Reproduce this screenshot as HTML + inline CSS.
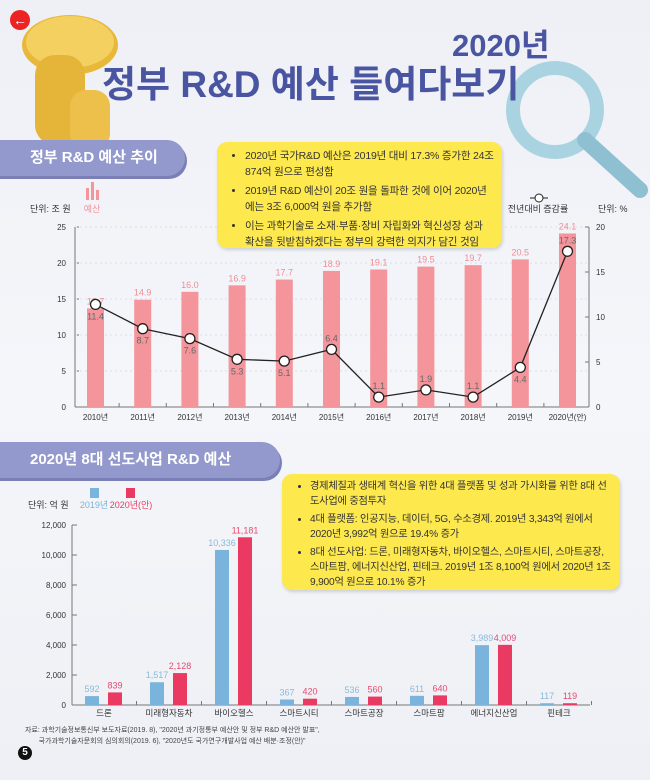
<!DOCTYPE html>
<html><head><meta charset="utf-8">
<style>
body{margin:0;width:650px;height:780px;overflow:hidden;font-family:"Liberation Sans","Noto Sans CJK KR",sans-serif;}
#page{position:relative;width:650px;height:780px;background:linear-gradient(180deg,#eef0f6 0%,#f5f6fa 50%,#eef0f5 100%);overflow:hidden;}
.abs{position:absolute;}
.tab{position:absolute;left:-10px;background:#9399cc;border-radius:0 30px 30px 0;color:#fff;font-weight:bold;font-size:15px;box-shadow:2px 3px 0 #7a80b5;}
.callout{position:absolute;background:#fde84e;border-radius:10px;font-size:10.5px;color:#333;line-height:16px;box-shadow:1px 2px 3px rgba(0,0,0,.15);letter-spacing:-0.2px}
.callout ul{margin:0;padding:0 0 0 20px}
.callout li{margin-bottom:3px}
</style></head><body>
<div id="page">
<svg class="abs" style="left:0;top:0" width="650" height="780">
  <circle cx="20" cy="20" r="10" fill="#e22"/>
  <text x="20" y="25" font-size="14" fill="#fff" text-anchor="middle" font-weight="bold">←</text>
  <g>
    <ellipse cx="70" cy="45" rx="48" ry="30" fill="#e8b83a"/>
    <ellipse cx="70" cy="42" rx="44" ry="26" fill="#f4d060"/>
    <rect x="35" y="55" width="50" height="90" rx="20" fill="#e5b53a"/>
    <rect x="70" y="90" width="40" height="60" rx="16" fill="#ecc04a"/>
  </g>
  <g>
    <circle cx="555" cy="110" r="42" fill="none" stroke="#a9d3e0" stroke-width="14"/>
    <line x1="585" y1="140" x2="640" y2="190" stroke="#8fc0d2" stroke-width="16" stroke-linecap="round"/>
  </g>
</svg>
<div class="abs" style="left:452px;top:20px;font-size:31px;color:#4a55a2;font-weight:bold">2020년</div>
<div class="abs" style="left:102px;top:54px;font-size:37px;color:#4a55a2;font-weight:bold">정부 R&amp;D 예산 들여다보기</div>

<div class="tab" style="top:140px;width:195px;height:36px;line-height:36px;padding-left:40px;box-sizing:border-box">정부 R&amp;D 예산 추이</div>
<div class="tab" style="top:442px;width:290px;height:36px;line-height:36px;padding-left:40px;box-sizing:border-box">2020년 8대 선도사업 R&amp;D 예산</div>

<div class="abs" style="left:25px;top:725px;font-size:7px;color:#444;line-height:11px">자료: 과학기술정보통신부 보도자료(2019. 8), "2020년 과기정통부 예산안 및 정부 R&amp;D 예산안 발표",<br>&nbsp;&nbsp;&nbsp;&nbsp;&nbsp;&nbsp;&nbsp;국가과학기술자문회의 심의회의(2019. 6), "2020년도 국가연구개발사업 예산 배분·조정(안)"</div>
<div class="abs" style="left:18px;top:746px;width:14px;height:14px;border-radius:7px;background:#111;color:#fff;font-size:10px;text-align:center;line-height:14px;font-weight:bold">5</div>

<svg id="c1" class="abs" style="left:0;top:0" width="650" height="440"></svg>
<svg id="c2" class="abs" style="left:0;top:440px" width="650" height="340"></svg>

<div class="callout" style="left:217px;top:142px;width:285px;height:106px;padding:6px 8px;box-sizing:border-box"><ul>
<li>2020년 국가R&amp;D 예산은 2019년 대비 17.3% 증가한 24조 874억 원으로 편성함</li>
<li>2019년 R&amp;D 예산이 20조 원을 돌파한 것에 이어 2020년에는 3조 6,000억 원을 추가함</li>
<li>이는 과학기술로 소재·부품·장비 자립화와 혁신성장 성과 확산을 뒷받침하겠다는 정부의 강력한 의지가 담긴 것임</li></ul></div>
<div class="callout" style="left:282px;top:474px;width:338px;height:116px;padding:5px 8px;box-sizing:border-box;font-size:10.2px;line-height:15px"><ul>
<li>경제체질과 생태계 혁신을 위한 4대 플랫폼 및 성과 가시화를 위한 8대 선도사업에 중점투자</li>
<li>4대 플랫폼: 인공지능, 데이터, 5G, 수소경제. 2019년 3,343억 원에서 2020년 3,992억 원으로 19.4% 증가</li>
<li>8대 선도사업: 드론, 미래형자동차, 바이오헬스, 스마트시티, 스마트공장, 스마트팜, 에너지신산업, 핀테크. 2019년 1조 8,100억 원에서 2020년 1조 9,900억 원으로 10.1% 증가</li></ul></div>
</div>
<script>
const years=["2010년","2011년","2012년","2013년","2014년","2015년","2016년","2017년","2018년","2019년","2020년(안)"];
const budget=[13.7,14.9,16.0,16.9,17.7,18.9,19.1,19.5,19.7,20.5,24.1];
const growth=[11.4,8.7,7.6,5.3,5.1,6.4,1.1,1.9,1.1,4.4,17.3];
const leftTicks=[0,5,10,15,20,25];
const rightTicks=[0,5,10,15,20];
const growthAbove=[false,false,false,false,false,true,true,true,true,false,true];

const cats=["드론","미래형자동차","바이오헬스","스마트시티","스마트공장","스마트팜","에너지신산업","핀테크"];
const v2019=[592,1517,10336,367,536,611,3989,117];
const v2020=[839,2128,11181,420,560,640,4009,119];
const ticks2=[0,2000,4000,6000,8000,10000,12000];

const NS="http://www.w3.org/2000/svg";
function mk(svg,tag,attrs,text){const e=document.createElementNS(NS,tag);for(const k in attrs)e.setAttribute(k,attrs[k]);if(text!==undefined)e.textContent=text;svg.appendChild(e);return e;}

(function(){
const s=document.getElementById('c1');
const x0=75,x1=589,yT=227,yB=407;
const yL=v=>yB-(v/25)*(yB-yT);
const yR=v=>yB-(v/20)*(yB-yT);
const xc=i=>95.5+i*47.2;
let e;
e=mk(s,'text',{x:30,y:212,'font-size':9,fill:'#333'},'단위: 조 원');
e=mk(s,'g',{});
mk(e,'rect',{x:86,y:188,width:3,height:12,fill:'#f4959b'});mk(e,'rect',{x:91,y:182,width:3,height:18,fill:'#f4959b'});mk(e,'rect',{x:96,y:190,width:3,height:10,fill:'#f4959b'});
mk(e,'text',{x:92,y:212,'font-size':9,fill:'#f4959b','text-anchor':'middle'},'예산');
e=mk(s,'g',{});
mk(e,'line',{x1:530,y1:198,x2:548,y2:198,stroke:'#222'});mk(e,'circle',{cx:539,cy:198,r:4,fill:'#fff',stroke:'#222'});
mk(e,'text',{x:538,y:212,'font-size':9,fill:'#333','text-anchor':'middle'},'전년대비 증감률');
e=mk(s,'text',{x:598,y:212,'font-size':9,fill:'#333'},'단위: %');
leftTicks.forEach(t=>{mk(s,'line',{x1:x0,y1:yL(t),x2:x0+4,y2:yL(t),stroke:'#777'});
 e=mk(s,'text',{x:66,y:yL(t)+3,'font-size':8,fill:'#333','text-anchor':'end'},t);
 if(t>0)mk(s,'line',{x1:x0,y1:yL(t),x2:x1,y2:yL(t),stroke:'#dde',"stroke-dasharray":"2 3"});});
rightTicks.forEach(t=>{mk(s,'line',{x1:x1-4,y1:yR(t),x2:x1,y2:yR(t),stroke:'#777'});
 e=mk(s,'text',{x:596,y:yR(t)+3,'font-size':8,fill:'#333'},t);});
mk(s,'line',{x1:x0,y1:yT,x2:x0,y2:yB,stroke:'#777'});
mk(s,'line',{x1:x1,y1:yT,x2:x1,y2:yB,stroke:'#777'});
mk(s,'line',{x1:x0,y1:yB,x2:x1,y2:yB,stroke:'#777'});
years.forEach((y,i)=>{
 e=mk(s,'rect',{x:xc(i)-8.5,y:yL(budget[i]),width:17,height:yB-yL(budget[i]),fill:'#f4959b'});
 e=mk(s,'text',{x:xc(i),y:yL(budget[i])-4,'font-size':9,fill:'#f08c94','text-anchor':'middle'},budget[i].toFixed(1));
 e=mk(s,'text',{x:xc(i),y:420,'font-size':8,fill:'#333','text-anchor':'middle'},y);
 if(i>0)mk(s,'line',{x1:xc(i)-23.6,y1:yB,x2:xc(i)-23.6,y2:yB-4,stroke:'#777'});
});
let d=growth.map((g,i)=>(i?'L':'M')+xc(i)+' '+yR(g)).join(' ');
e=mk(s,'path',{d:d,fill:'none',stroke:'#222','stroke-width':1.3});
growth.forEach((g,i)=>{
 e=mk(s,'circle',{cx:xc(i),cy:yR(g),r:5,fill:'#fff',stroke:'#222','stroke-width':1.3});
 e=mk(s,'text',{x:xc(i),y:growthAbove[i]?yR(g)-8:yR(g)+15,'font-size':9,fill:'#666','text-anchor':'middle'},g.toFixed(1));
});
})();

(function(){
const s=document.getElementById('c2');
const x0=72,x1=590,yT=85,yB=265;
const y=v=>yB-(v/12000)*(yB-yT);
const xc=i=>104+i*65;
let e;
e=mk(s,'text',{x:28,y:68,'font-size':9,fill:'#333'},'단위: 억 원');
e=mk(s,'g',{});
mk(e,'rect',{x:90,y:48,width:9,height:10,fill:'#7ab3db'});mk(e,'text',{x:94,y:68,'font-size':9,fill:'#7ab3db','text-anchor':'middle'},'2019년');
e=mk(s,'g',{});
mk(e,'rect',{x:126,y:48,width:9,height:10,fill:'#ea3a62'});mk(e,'text',{x:131,y:68,'font-size':9,fill:'#ea3a62','text-anchor':'middle'},'2020년(안)');
ticks2.forEach(t=>{mk(s,'line',{x1:x0,y1:y(t),x2:x0+5,y2:y(t),stroke:'#777'});
 e=mk(s,'text',{x:66,y:y(t)+3,'font-size':8,fill:'#333','text-anchor':'end'},t.toLocaleString('en-US'));});
mk(s,'line',{x1:x0,y1:yT,x2:x0,y2:yB,stroke:'#777'});
mk(s,'line',{x1:x0,y1:yB,x2:x1,y2:yB,stroke:'#777'});
cats.forEach((c,i)=>{
 const a=v2019[i],b=v2020[i];
 e=mk(s,'rect',{x:xc(i)-19,y:y(a),width:14,height:yB-y(a),fill:'#7ab3db'});
 e=mk(s,'rect',{x:xc(i)+4,y:y(b),width:14,height:yB-y(b),fill:'#ea3a62'});
 e=mk(s,'text',{x:xc(i)-12,y:y(a)-4,'font-size':9,fill:'#8bbad8','text-anchor':'middle'},a.toLocaleString('en-US'));
 e=mk(s,'text',{x:xc(i)+11,y:y(b)-4,'font-size':9,fill:'#e84a6e','text-anchor':'middle'},b.toLocaleString('en-US'));
 e=mk(s,'text',{x:xc(i),y:276,'font-size':8.5,fill:'#333','text-anchor':'middle'},c);
 mk(s,'line',{x1:xc(i)+32.5,y1:yB,x2:xc(i)+32.5,y2:yB-4,stroke:'#777'});
});
})();
</script>
</body></html>
